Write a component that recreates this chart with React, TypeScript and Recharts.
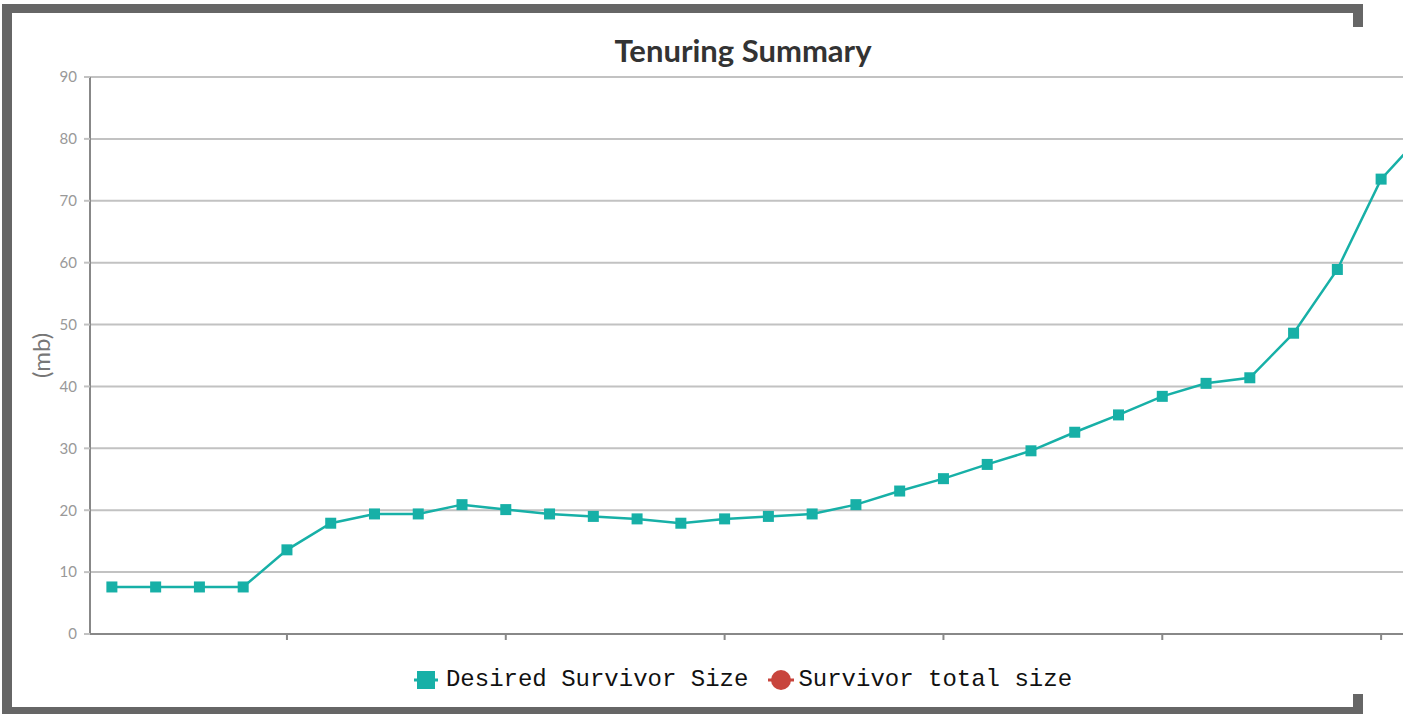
import React from 'react';
import { LineChart, Line, XAxis, YAxis, CartesianGrid, Legend } from 'recharts';

// sample number (x) and survivor sizes in mb
const samples = [1, 2, 3, 4, 5, 6, 7, 8, 9, 10, 11, 12, 13, 14, 15, 16, 17, 18, 19, 20, 21, 22, 23, 24, 25, 26, 27, 28, 29, 30, 31];
const desiredSurvivorSize = [
  7.6, 7.6, 7.6, 7.6, 13.6, 17.9, 19.4, 19.4, 20.9, 20.1,
  19.4, 19.0, 18.6, 17.9, 18.6, 19.0, 19.4, 20.9, 23.1, 25.1,
  27.4, 29.6, 32.6, 35.4, 38.4, 40.5, 41.4, 48.6, 58.9, 73.5, 81.2,
];
const survivorTotalSize: (number | null)[] = [];
const yTicks = [0, 10, 20, 30, 40, 50, 60, 70, 80, 90];
const xTicks = [5, 10, 15, 20, 25, 30];

const TEAL = '#17b0a7';
const RED = '#c8453d';
const FRAME = '#666666';

const data = samples.map((s, i) => ({
  sample: s,
  desired: desiredSurvivorSize[i],
  total: survivorTotalSize[i] ?? null,
}));

const SquareDot = (props: any) => {
  const { cx, cy, index } = props;
  if (cx == null || cy == null) return <g key={index} />;
  return <rect key={index} x={cx - 5.5} y={cy - 5.5} width={11} height={11} fill={TEAL} />;
};

const LegendContent = () => (
  <div
    style={{
      display: 'flex',
      justifyContent: 'center',
      alignItems: 'center',
      fontFamily: '"Liberation Mono", monospace',
      fontSize: 24,
      color: '#111',
    }}
  >
    <svg width={24} height={22} style={{ marginRight: 8 }}>
      <line x1={0} y1={11} x2={24} y2={11} stroke={TEAL} strokeWidth={3} />
      <rect x={3} y={2} width={18} height={18} fill={TEAL} />
    </svg>
    <span style={{ marginRight: 20 }}>Desired Survivor Size</span>
    <svg width={26} height={22} style={{ marginRight: 4 }}>
      <line x1={0} y1={11} x2={26} y2={11} stroke={RED} strokeWidth={3} />
      <circle cx={13} cy={11} r={10} fill={RED} />
    </svg>
    <span>Survivor total size</span>
  </div>
);

export default function App() {
  return (
    <div style={{ position: 'absolute', left: 0, top: 0, width: 1420, height: 714, background: '#fff', overflow: 'hidden' }}>
      {/* frame */}
      <div style={{ position: 'absolute', left: 2, top: 4, width: 1361, height: 9, background: FRAME }} />
      <div style={{ position: 'absolute', left: 1353, top: 4, width: 10, height: 23, background: FRAME }} />
      <div style={{ position: 'absolute', left: 2, top: 4, width: 10, height: 710, background: FRAME }} />
      <div style={{ position: 'absolute', left: 2, top: 707, width: 1361, height: 7, background: FRAME }} />
      <div style={{ position: 'absolute', left: 1353, top: 694, width: 10, height: 20, background: FRAME }} />

      <div
        style={{
          position: 'absolute',
          left: 0,
          top: 31,
          width: 1486,
          textAlign: 'center',
          fontFamily: 'Lato, sans-serif',
          fontWeight: 'bold',
          fontSize: 31,
          color: '#333',
        }}
      >
        Tenuring Summary
      </div>

      <div style={{ position: 'absolute', left: 0, top: 0 }}>
        <LineChart width={1420} height={714} data={data} margin={{ top: 77, right: 17, left: 0, bottom: 50 }}>
          <CartesianGrid horizontal vertical={false} stroke="#c2c2c2" strokeWidth={2} />
          <XAxis
            dataKey="sample"
            type="number"
            domain={[0.5, 30.5]}
            allowDataOverflow
            ticks={xTicks}
            tickFormatter={() => ''}
            height={30}
            tickSize={6}
            axisLine={{ stroke: '#888', strokeWidth: 2 }}
            tickLine={{ stroke: '#888', strokeWidth: 2 }}
          />
          <YAxis
            domain={[0, 90]}
            ticks={yTicks}
            width={90}
            tickSize={6}
            tickMargin={7}
            axisLine={{ stroke: '#888', strokeWidth: 2 }}
            tickLine={{ stroke: '#c2c2c2', strokeWidth: 2 }}
            tick={{ fill: '#999', fontSize: 15, fontFamily: 'Lato, sans-serif' }}
            label={{
              value: '(mb)',
              angle: -90,
              position: 'center',
              dx: -4,
              style: { fill: '#777', fontSize: 24, fontFamily: 'Lato, sans-serif' },
            }}
          />
          <Line
            dataKey="desired"
            name="Desired Survivor Size"
            stroke={TEAL}
            strokeWidth={2.5}
            dot={SquareDot}
            activeDot={false}
            isAnimationActive={false}
          />
          <Line
            dataKey="total"
            name="Survivor total size"
            stroke={RED}
            strokeWidth={2.5}
            dot={false}
            activeDot={false}
            isAnimationActive={false}
          />
          <Legend
            layout="horizontal"
            verticalAlign="middle"
            align="center"
            wrapperStyle={{ top: 666, left: 0, width: 1486 }}
            content={LegendContent}
          />
        </LineChart>
      </div>
    </div>
  );
}
